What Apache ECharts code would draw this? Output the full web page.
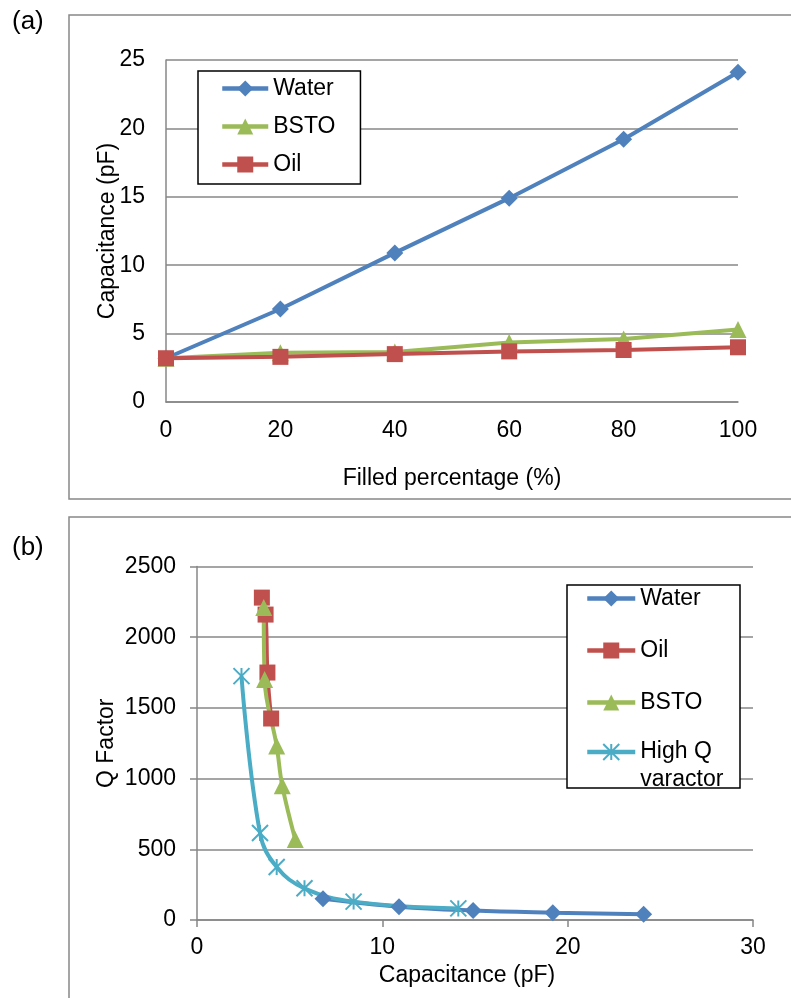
<!DOCTYPE html>
<html>
<head>
<meta charset="utf-8">
<script src="https://cdn.jsdelivr.net/npm/echarts@6/dist/echarts.min.js"></script>
<style>
  html, body { margin: 0; padding: 0; background: #fff; }
  #main { width: 791px; height: 998px; }
</style>
</head>
<body>
<div id="main"></div>
<script>
// (a) capacitance vs filled percentage
var filledPct = [0, 20, 40, 60, 80, 100]
var capWater = [3.2, 6.8, 10.9, 14.9, 19.2, 24.1]
var capBsto = [3.2, 3.6, 3.65, 4.35, 4.6, 5.3]
var capOil = [3.2, 3.3, 3.5, 3.7, 3.8, 4.0]

// (b) Q factor vs capacitance
var qWaterCap = [6.8, 10.9, 14.9, 19.2, 24.1]
var qWater = [150, 94, 67, 52, 40]
var qOilCap = [3.5, 3.7, 3.8, 4.0]
var qOil = [2280, 2160, 1750, 1425]
var qBstoCap = [3.6, 3.65, 4.3, 4.6, 5.3]
var qBsto = [2210, 1700, 1230, 950, 570]
var qVarCap = [2.4, 3.4, 4.3, 5.8, 8.45, 14.1]
var qVar = [1725, 615, 375, 224, 130, 82]

var BLUE = '#4F81BD'
var RED = '#C0504D'
var GREEN = '#9BBB59'
var AQUA = '#4BACC6'
var GRID = '#878787'
var FONT = 'Liberation Sans, Arial, sans-serif'

function pairs (xs, ys) {
  return xs.map(function (x, i) { return [x, ys[i]] })
}

var txt = { fontSize: 23, color: '#000', fontFamily: FONT }
var axisLine = { show: true, lineStyle: { color: GRID, width: 1.5 } }
var split = { show: true, lineStyle: { color: GRID, width: 1.5 } }
var plain = function (v) { return String(v) }

function lineSeries (name, xi, data, color, symbol, size, smooth) {
  return {
    type: 'line',
    name: name,
    xAxisIndex: xi,
    yAxisIndex: xi,
    data: data,
    symbol: symbol,
    symbolSize: size,
    smooth: smooth || false,
    clip: false,
    lineStyle: { color: color, width: 4 },
    itemStyle: { color: color },
    emphasis: { disabled: true }
  }
}

var chart = echarts.init(document.getElementById('main'))

var varSeries = lineSeries('High Q\nvaractor', 1, pairs(qVarCap, qVar), AQUA,
  'path://M0,0L10,10M10,0L0,10M5,0L5,10', 16, 0.4)
varSeries.itemStyle = { color: AQUA, borderColor: AQUA, borderWidth: 2 }

chart.setOption({
  animation: false,
  grid: [
    { left: 166, top: 60, width: 572, height: 342, outerBoundsMode: 'none' },
    { left: 197, top: 566.5, width: 556, height: 353.5, outerBoundsMode: 'none' }
  ],
  xAxis: [
    {
      gridIndex: 0, type: 'value', min: 0, max: 100, interval: 20,
      axisLine: axisLine, axisTick: { show: false }, splitLine: { show: false },
      axisLabel: Object.assign({ margin: 17, formatter: plain }, txt),
      name: 'Filled percentage (%)', nameLocation: 'middle', nameGap: 65,
      nameMoveOverlap: false,
      nameTextStyle: txt
    },
    {
      gridIndex: 1, type: 'value', min: 0, max: 30, interval: 10,
      axisLine: axisLine,
      axisTick: { show: true, length: 7, lineStyle: { color: GRID, width: 1.5 } },
      splitLine: { show: false },
      axisLabel: Object.assign({ margin: 16, formatter: plain }, txt),
      name: 'Capacitance (pF)', nameLocation: 'middle', nameGap: 44,
      nameMoveOverlap: false,
      nameTextStyle: Object.assign({ padding: [0, 16, 0, 0] }, txt)
    }
  ],
  yAxis: [
    {
      gridIndex: 0, type: 'value', min: 0, max: 25, interval: 5,
      axisLine: axisLine, axisTick: { show: false }, splitLine: split,
      axisLabel: Object.assign({ margin: 21, formatter: plain }, txt),
      name: 'Capacitance (pF)', nameLocation: 'middle', nameGap: 47,
      nameMoveOverlap: false,
      nameTextStyle: txt
    },
    {
      gridIndex: 1, type: 'value', min: 0, max: 2500, interval: 500,
      axisLine: axisLine,
      axisTick: { show: true, length: 7, lineStyle: { color: GRID, width: 1.5 } },
      splitLine: split,
      axisLabel: Object.assign({ margin: 21, formatter: plain }, txt),
      name: 'Q Factor', nameLocation: 'middle', nameGap: 79,
      nameMoveOverlap: false,
      nameTextStyle: txt
    }
  ],
  legend: [
    {
      left: 198, top: 71, orient: 'vertical',
      padding: [6, 25, 8, 22], itemGap: 15, itemWidth: 46, itemHeight: 20,
      borderColor: '#000', borderWidth: 1.5, backgroundColor: '#fff',
      lineStyle: { width: 4.5 },
      textStyle: Object.assign({ lineHeight: 23 }, txt),
      data: ['Water', 'BSTO', 'Oil']
    },
    {
      left: 567, top: 587, orient: 'vertical',
      padding: [0, 0, 0, 18], itemGap: 29, itemWidth: 48, itemHeight: 20,
      lineStyle: { width: 4.5 },
      textStyle: Object.assign({ lineHeight: 23 }, txt),
      data: ['Water', 'Oil', 'BSTO']
    },
    {
      left: 567, top: 710, orient: 'vertical',
      padding: [0, 0, 0, 18], itemWidth: 48, itemHeight: 20,
      lineStyle: { width: 4.5 },
      formatter: function (name) { return '\n' + name },
      textStyle: Object.assign({ lineHeight: 28 }, txt),
      data: ['High Q\nvaractor']
    }
  ],
  graphic: [
    { type: 'rect', silent: true, shape: { x: 69, y: 15, width: 760, height: 484 },
      style: { fill: 'none', stroke: '#888', lineWidth: 1.5 } },
    { type: 'rect', silent: true, shape: { x: 69, y: 517, width: 760, height: 500 },
      style: { fill: 'none', stroke: '#888', lineWidth: 1.5 } },
    { type: 'rect', silent: true, z: 3, shape: { x: 567, y: 585, width: 173, height: 203 },
      style: { fill: '#fff', stroke: '#000', lineWidth: 1.5 } },
    { type: 'text', left: 12, top: 9, style: { text: '(a)', font: '26px Liberation Sans', fill: '#000' } },
    { type: 'text', left: 12, top: 535, style: { text: '(b)', font: '26px Liberation Sans', fill: '#000' } }
  ],
  series: [
    // (a)
    lineSeries('Water', 0, pairs(filledPct, capWater), BLUE, 'diamond', 17),
    lineSeries('BSTO', 0, pairs(filledPct, capBsto), GREEN, 'triangle', 17),
    lineSeries('Oil', 0, pairs(filledPct, capOil), RED, 'rect', 16),
    // (b)
    lineSeries('Water', 1, pairs(qWaterCap, qWater), BLUE, 'diamond', 17, 0.4),
    lineSeries('Oil', 1, pairs(qOilCap, qOil), RED, 'rect', 16, 0.4),
    lineSeries('BSTO', 1, pairs(qBstoCap, qBsto), GREEN, 'triangle', 17, 0.4),
    varSeries
  ]
})
</script>
</body>
</html>
